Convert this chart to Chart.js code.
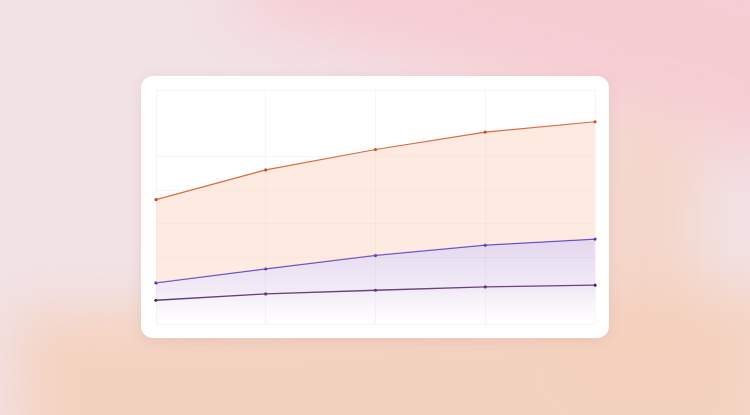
<!DOCTYPE html>
<html>
<head>
<meta charset="utf-8">
<script src="https://cdn.jsdelivr.net/npm/chart.js@4/dist/chart.umd.min.js"></script>
<style>
    html, body { margin: 0; padding: 0; }
    body {
        width: 750px;
        height: 415px;
        overflow: hidden;
        position: relative;
        font-family: 'Inter', sans-serif;
        background: #f2e2e5;
    }
    .blob { position: absolute; }
    .blob.pink {
        left: 250px; top: -100px; width: 640px; height: 200px;
        background: #f8c4cc;
        transform: rotate(15deg);
        filter: blur(32px);
        opacity: 0.7;
    }
    .blob.peach {
        left: 18px; top: 300px; width: 760px; height: 190px;
        background: #f6c9aa;
        transform: rotate(-2deg);
        filter: blur(26px);
        opacity: 0.62;
    }
    .blob.side {
        left: 590px; top: 120px; width: 110px; height: 250px;
        background: #f5cfba;
        filter: blur(30px);
        opacity: 0.65;
    }
    .card {
        position: absolute;
        left: 141px;
        top: 76px;
        width: 468px;
        height: 262px;
        background: #fff;
        border-radius: 12px;
        box-shadow: 0 3px 14px rgba(170, 110, 110, 0.14);
    }
    .card canvas { display: block; }
</style>
</head>
<body>
<div class="blob pink"></div>
<div class="blob peach"></div>
<div class="blob side"></div>
<div class="card"><canvas id="growthChart"></canvas></div>
<script>
// === DATA ===
const periods = ['P1', 'P2', 'P3', 'P4', 'P5'];
const seriesTop = [37.2, 46.1, 52.2, 57.4, 60.5];
const seriesMid = [12.3, 16.5, 20.5, 23.6, 25.4];
const seriesLow = [7.1, 9.0, 10.1, 11.1, 11.6];
const yTicks = [0, 10, 20, 30, 40, 50, 60, 70];
const hiddenGridValues = [10, 60];

document.addEventListener('DOMContentLoaded', function() {
    const ctx = document.getElementById('growthChart');

    function lavenderFill(context) {
        const area = context.chart.chartArea;
        if (!area) return 'rgba(190,160,215,0.35)';
        const g = context.chart.ctx.createLinearGradient(0, area.top, 0, area.bottom);
        g.addColorStop(0, 'rgba(185,150,212,0.42)');
        g.addColorStop(0.62, 'rgba(185,150,212,0.40)');
        g.addColorStop(0.86, 'rgba(200,172,220,0.24)');
        g.addColorStop(1, 'rgba(235,220,238,0.04)');
        return g;
    }

    new Chart(ctx, {
        type: 'line',
        data: {
            labels: periods,
            datasets: [{
                label: 'Top',
                data: seriesTop,
                borderColor: '#dc6a3f',
                backgroundColor: 'rgba(248,196,170,0.34)',
                fill: 1,
                borderWidth: 1.2,
                tension: 0,
                pointRadius: 1.6,
                pointBackgroundColor: '#cf4a22',
                pointBorderWidth: 0
            }, {
                label: 'Middle',
                data: seriesMid,
                borderColor: '#5843c9',
                backgroundColor: lavenderFill,
                fill: 'origin',
                borderWidth: 1.2,
                tension: 0,
                pointRadius: 1.6,
                pointBackgroundColor: '#4530b8',
                pointBorderWidth: 0
            }, {
                label: 'Low',
                data: seriesLow,
                borderColor: '#4d1f5c',
                fill: false,
                borderWidth: 1.3,
                tension: 0,
                pointRadius: 1.6,
                pointBackgroundColor: '#3f1450',
                pointBorderWidth: 0
            }]
        },
        options: {
            responsive: true,
            maintainAspectRatio: false,
            animation: false,
            layout: { padding: { left: 15, right: 14, top: 14, bottom: 14 } },
            plugins: {
                legend: { display: false },
                tooltip: { enabled: false }
            },
            scales: {
                x: {
                    offset: false,
                    border: { display: false },
                    grid: { color: 'rgba(120,80,80,0.06)', drawTicks: false },
                    ticks: { display: false }
                },
                y: {
                    min: yTicks[0],
                    max: yTicks[yTicks.length - 1],
                    afterBuildTicks: function(axis) {
                        axis.ticks = yTicks.map(function(v) { return { value: v }; });
                    },
                    border: { display: false },
                    grid: {
                        drawTicks: false,
                        color: function(c) {
                            return hiddenGridValues.indexOf(c.tick.value) >= 0
                                ? 'rgba(0,0,0,0)' : 'rgba(120,80,80,0.06)';
                        }
                    },
                    ticks: { display: false }
                }
            }
        }
    });
});
</script>
</body>
</html>
